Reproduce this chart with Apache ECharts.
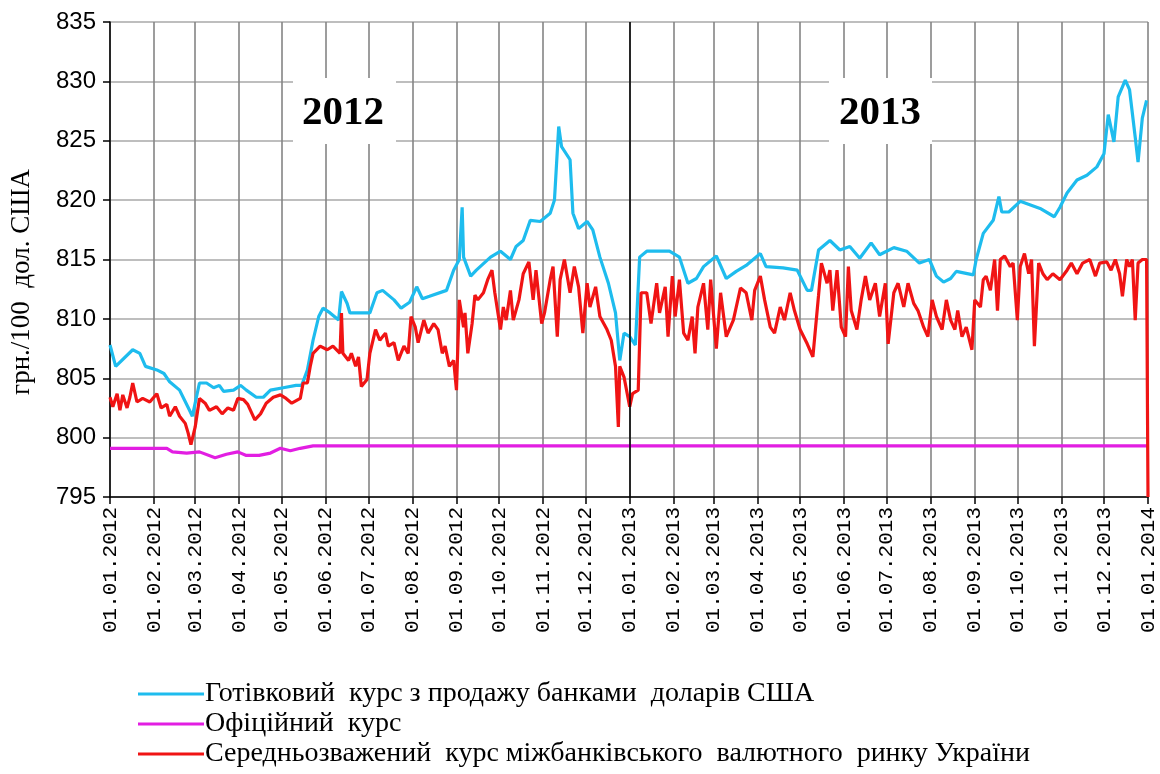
<!DOCTYPE html>
<html><head><meta charset="utf-8">
<script src="https://cdn.jsdelivr.net/npm/echarts@6/dist/echarts.min.js"></script>
<style>html,body{margin:0;padding:0;background:#fff}#c{width:1160px;height:774px}</style>
</head><body><div id="c"></div>
<script>
// Tick labels (first day of each month)
const tickLabels = ['01.01.2012','01.02.2012','01.03.2012','01.04.2012','01.05.2012','01.06.2012','01.07.2012','01.08.2012','01.09.2012','01.10.2012','01.11.2012','01.12.2012','01.01.2013','01.02.2013','01.03.2013','01.04.2013','01.05.2013','01.06.2013','01.07.2013','01.08.2013','01.09.2013','01.10.2013','01.11.2013','01.12.2013','01.01.2014'];
const yTicks = [795,800,805,810,815,820,825,830,835];
const seriesNames = ['Готівковий  курс з продажу банками  доларів США','Офіційний  курс','Середньозважений  курс міжбанківського  валютного  ринку України'];
const yAxisTitle = 'грн./100  дол. США';

// days since 01.01.2012 and values (грн./100 дол. США)
const cashDays = [0,4,16,21,25,33,38,42,49,56,58,63,68,73,77,80,87,92,96,103,108,113,122,131,135,139,143,147,150,155,161,163,167,169,183,188,192,200,205,211,216,220,225,237,242,246,248,249,254,258,268,275,282,286,291,296,303,310,313,316,318,324,326,330,336,340,345,351,356,359,362,366,370,373,378,394,401,407,413,418,427,434,441,448,458,462,474,484,491,494,499,507,514,521,528,536,542,552,561,570,577,582,587,592,596,608,610,615,622,626,628,633,641,655,665,669,674,681,688,695,700,703,707,710,715,718,722,724,727,730];
const cashValues = [807.8,806.0,807.4,807.1,806.0,805.7,805.4,804.7,804.0,802.3,801.8,804.6,804.6,804.2,804.4,803.9,804.0,804.4,804.0,803.4,803.4,804.0,804.2,804.4,804.4,805.7,808.2,810.2,810.9,810.5,809.9,812.3,811.3,810.5,810.5,812.2,812.4,811.6,810.9,811.4,812.7,811.7,811.9,812.4,814.1,815.0,819.4,815.2,813.6,814.1,815.2,815.7,815.0,816.1,816.6,818.3,818.2,818.9,820.0,826.2,824.5,823.4,818.9,817.6,818.2,817.5,815.2,813.0,810.5,806.5,808.8,808.5,807.8,815.2,815.7,815.7,815.2,813.0,813.4,814.4,815.3,813.4,814.0,814.5,815.5,814.4,814.3,814.1,812.4,812.4,815.8,816.6,815.8,816.1,815.1,816.4,815.4,816.0,815.7,814.7,815.0,813.6,813.1,813.4,814.0,813.7,815.0,817.2,818.3,820.3,819.0,819.0,819.9,819.3,818.6,819.4,820.6,821.7,822.1,822.8,823.9,827.2,824.9,828.7,830.1,829.3,825.3,823.2,826.9,828.4];

const officialDays = [0,40,44,54,63,74,82,90,96,105,113,120,127,134,143,160,731];
const officialValues = [799.1,799.1,798.8,798.7,798.8,798.3,798.6,798.8,798.5,798.5,798.7,799.1,798.9,799.1,799.3,799.3,799.3];

const interbankDays = [0,2,5,7,9,12,14,16,19,23,28,33,36,40,42,46,49,53,55,57,60,63,67,70,75,79,83,87,90,94,97,102,106,110,115,120,124,128,134,136,139,141,143,148,153,157,162,163,164,168,170,173,175,177,181,183,187,190,194,196,200,203,207,210,212,215,217,221,224,228,231,234,236,239,242,244,246,249,250,252,255,257,259,263,266,269,271,275,277,279,282,284,288,291,295,298,300,304,306,310,312,315,317,320,324,327,330,333,336,338,342,345,350,353,356,358,359,362,366,368,372,374,378,381,385,387,391,393,396,398,401,404,407,410,412,414,418,421,423,427,430,434,439,444,448,452,454,458,461,465,468,472,475,479,482,486,491,495,499,501,505,507,509,512,515,518,520,522,526,529,532,535,539,542,546,548,552,555,559,562,566,569,573,576,579,582,586,589,592,595,597,600,603,607,609,613,615,617,620,623,625,627,630,634,636,639,641,644,647,649,651,654,657,660,664,669,674,677,681,685,690,694,697,702,705,708,711,713,716,718,720,722,724,727,730,731];
const interbankValues = [803.4,802.6,803.7,802.3,803.6,802.5,803.4,804.6,803.0,803.3,803.0,803.7,802.5,802.8,801.8,802.6,801.8,801.2,800.4,799.4,800.9,803.3,802.9,802.3,802.6,802.0,802.5,802.3,803.3,803.2,802.8,801.5,802.0,802.9,803.4,803.6,803.3,802.9,803.3,804.6,804.6,806.0,807.1,807.7,807.4,807.7,807.1,810.5,807.1,806.5,807.1,806.0,806.8,804.3,804.9,807.1,809.1,808.2,808.8,807.7,808.0,806.5,807.7,807.1,810.2,809.3,808.0,809.9,808.8,809.6,809.1,807.1,807.7,806.0,806.5,804.0,811.6,809.3,810.5,807.1,809.6,812.0,811.6,812.2,813.3,814.1,812.2,809.1,811.0,809.9,812.4,809.9,811.6,813.8,814.8,811.6,814.1,809.6,810.5,813.3,814.4,808.5,813.3,815.0,812.2,814.4,812.7,808.8,813.0,811.0,812.7,810.2,809.1,808.2,806.0,800.9,806.0,805.1,802.6,803.7,804.0,812.2,812.2,809.6,813.0,810.5,812.7,808.5,813.6,810.2,813.3,808.8,808.2,810.2,807.1,811.0,813.0,809.1,813.3,807.5,812.2,808.5,809.9,812.6,812.2,809.9,812.4,813.6,811.6,809.3,808.8,811.0,809.9,812.2,810.7,809.1,807.9,806.8,812.0,814.7,813.0,814.1,810.7,814.1,809.3,808.5,814.4,810.7,809.1,811.6,813.6,811.6,813.0,810.2,813.0,807.9,812.2,813.0,811.0,813.0,811.3,810.7,809.3,808.5,811.6,810.2,809.1,811.6,809.9,809.1,810.7,808.5,809.3,807.4,811.6,811.0,813.3,813.6,812.4,815.0,810.7,815.0,815.3,814.4,814.7,809.9,814.4,815.5,813.8,815.0,807.7,814.7,813.8,813.3,813.8,813.3,814.1,814.7,813.8,814.7,815.0,813.6,814.7,814.8,814.1,815.0,813.8,811.9,815.0,814.4,815.0,809.9,814.7,815.0,815.0,795];

const yearLabels = ['2012','2013'];

function dayOf(s){const p=s.split('.');return Math.round((Date.UTC(+p[2],+p[1]-1,+p[0])-Date.UTC(2012,0,1))/86400000);}
const tickDays = tickLabels.map(dayOf);
const labelByDay = {}; tickDays.forEach((d,i)=>labelByDay[d]=tickLabels[i]);
const zip=(a,b)=>a.map((x,i)=>[x,b[i]]);

const chart = echarts.init(document.getElementById('c'), null, {renderer:'canvas'});
const option = {
  animation:false,
  backgroundColor:'#fff',
  grid:{left:110,right:12,top:22,bottom:277,containLabel:false},
  xAxis:{type:'value',min:tickDays[0],max:tickDays[tickDays.length-1],
    axisLine:{show:true,onZero:false,lineStyle:{color:'#000',width:1.5}},
    axisTick:{show:true,customValues:tickDays,length:7,lineStyle:{color:'#000',width:1.5}},
    axisLabel:{customValues:tickDays,rotate:90,margin:10,color:'#000',fontFamily:'Liberation Mono',fontSize:21,formatter:v=>labelByDay[v]||''},
    splitLine:{show:true,lineStyle:{color:'#858585',width:1.6}}
  },
  yAxis:{type:'value',min:yTicks[0],max:yTicks[yTicks.length-1],interval:5,
    axisLine:{show:true,lineStyle:{color:'#000',width:1.5}},
    axisTick:{show:true,length:7,lineStyle:{color:'#000',width:1.5}},
    axisLabel:{color:'#000',fontFamily:'Liberation Sans',fontSize:24,margin:14},
    splitLine:{show:true,lineStyle:{color:'#a8a8a8',width:1.6}}
  },
  legend:{orient:'vertical',left:138,top:680,height:94,padding:0,icon:'rect',itemWidth:66,itemHeight:3,itemGap:2,
    textStyle:{fontFamily:'Liberation Serif',fontSize:28,lineHeight:28,color:'#000',padding:[0,0,0,-4]},
    data:seriesNames},
  graphic:[
    {type:'text',x:22,y:282,rotation:Math.PI/2,style:{text:yAxisTitle,font:'27px "Liberation Serif"',textAlign:'center',textVerticalAlign:'middle',fill:'#000'}},
    {type:'rect',z:5,shape:{x:293,y:78,width:103,height:66},style:{fill:'#fff'}},
    {type:'text',z:6,x:343,y:113,style:{text:yearLabels[0],font:'bold 41px "Liberation Serif"',textAlign:'center',textVerticalAlign:'middle',fill:'#000'}},
    {type:'rect',z:5,shape:{x:829,y:78,width:103,height:66},style:{fill:'#fff'}},
    {type:'text',z:6,x:880,y:113,style:{text:yearLabels[1],font:'bold 41px "Liberation Serif"',textAlign:'center',textVerticalAlign:'middle',fill:'#000'}}
  ],
  series:[
    {name:seriesNames[0],type:'line',data:zip(cashDays,cashValues),showSymbol:false,color:'#1ebcee',lineStyle:{width:3.2,color:'#1ebcee'},
      markLine:{silent:true,symbol:'none',label:{show:false},lineStyle:{color:'#000',width:1.5,type:'solid'},data:[{xAxis:dayOf('01.01.2013')}]}},
    {name:seriesNames[1],type:'line',data:zip(officialDays,officialValues),showSymbol:false,color:'#e21ee2',lineStyle:{width:3.2,color:'#e21ee2'}},
    {name:seriesNames[2],type:'line',data:zip(interbankDays,interbankValues),showSymbol:false,color:'#f01414',lineStyle:{width:3.2,color:'#f01414'}}
  ]
};
chart.setOption(option);
</script></body></html>
